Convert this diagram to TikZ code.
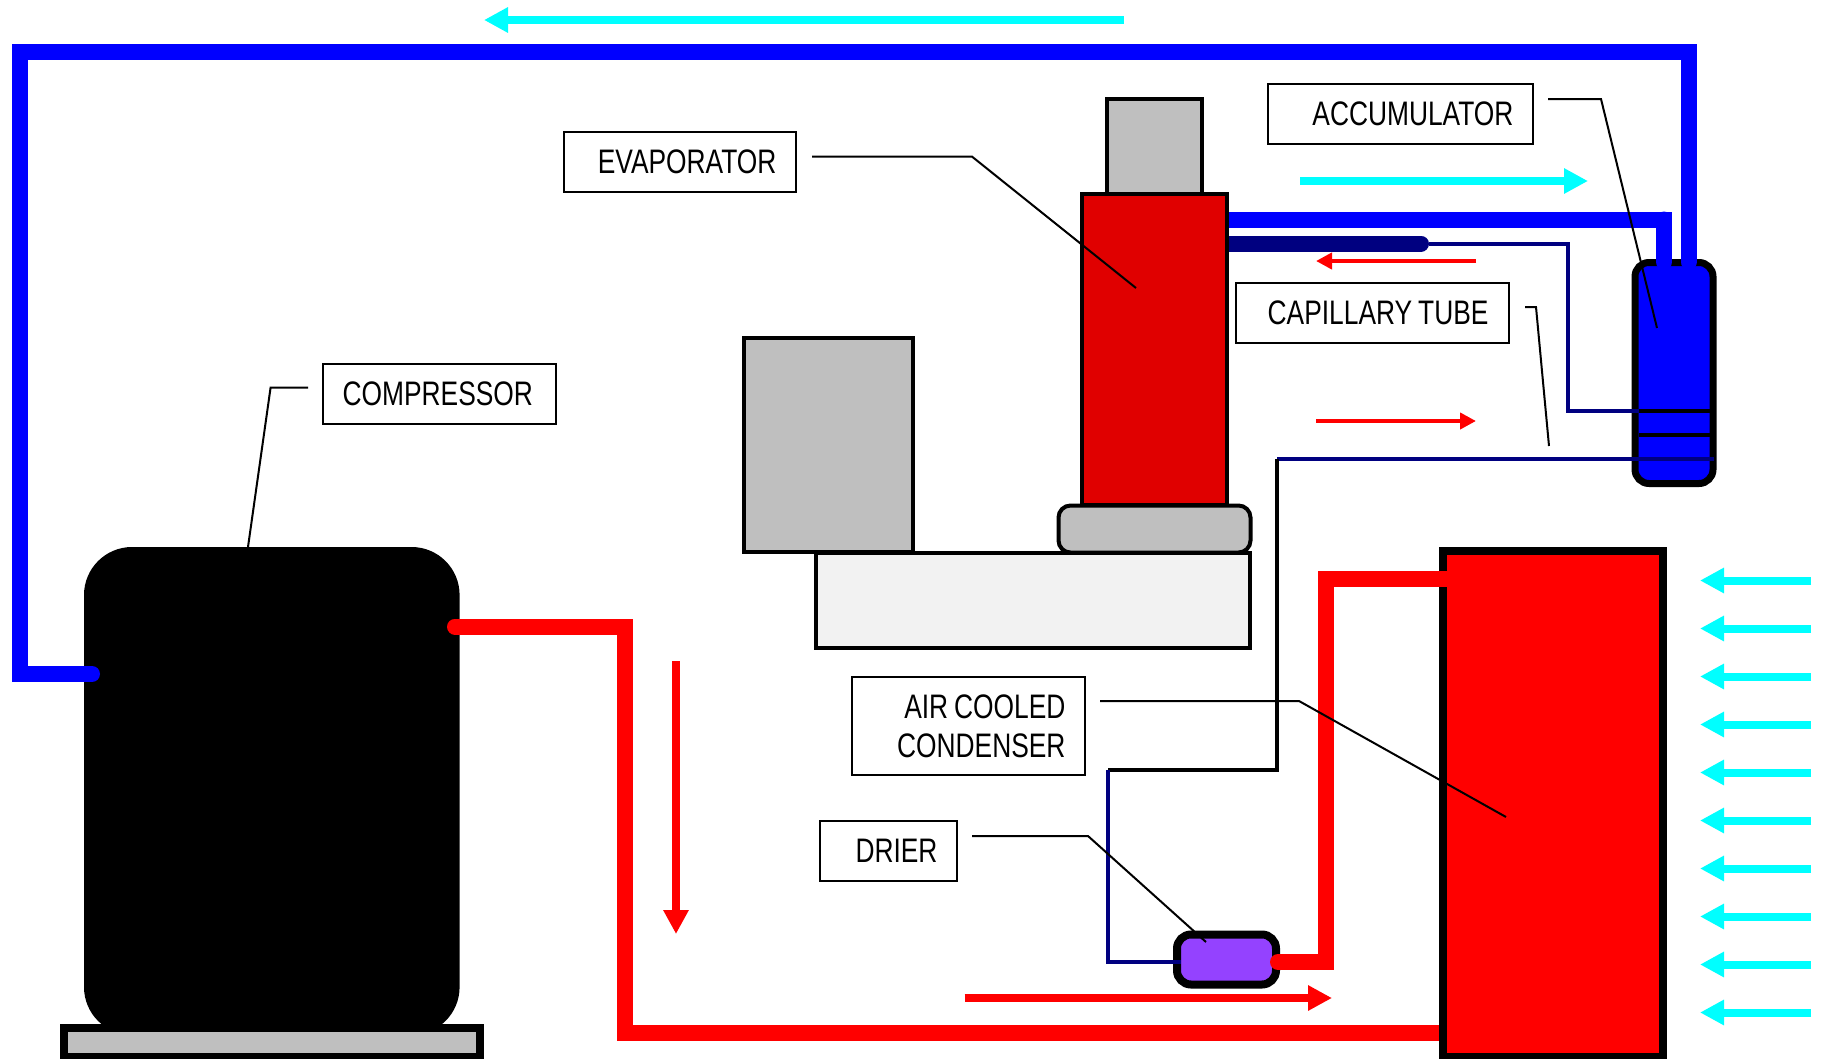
\documentclass[tikz,border=0pt]{standalone}
\usepackage{fontspec}
\setmainfont[FakeStretch=0.775]{Liberation Sans}
\usetikzlibrary{arrows.meta}
\definecolor{tubeblue}{HTML}{0000FF}
\definecolor{tubered}{HTML}{FF0000}
\definecolor{evapred}{HTML}{E00000}
\definecolor{capnavy}{HTML}{000080}
\definecolor{flowcyan}{HTML}{00FFFF}
\definecolor{partgray}{HTML}{BFBFBF}
\definecolor{basegray}{HTML}{F2F2F2}
\definecolor{drierviolet}{HTML}{9442FF}
\tikzset{
  x=1pt,y=-1pt,
  labelbox/.style={draw=black,line width=2pt,fill=white,inner xsep=19.5pt,inner ysep=0pt,
    text width=#1pt-39pt,minimum width=#1pt,align=right,font=\fontsize{34}{39}\selectfont,text=black,
    execute at begin node={\spaceskip=6pt\relax}},
  leader/.style={draw=black,line width=2pt,line join=miter},
  part/.style={draw=black,line width=4pt,inner sep=0pt},
  tube/.style={line width=16pt,line cap=round,line join=miter},
  bluetube/.style={tube,draw=tubeblue},
  redtube/.style={tube,draw=tubered},
  navytube/.style={tube,draw=capnavy},
  capnavyline/.style={draw=capnavy,line width=4pt,line join=miter},
  capblackline/.style={draw=black,line width=4pt,line join=miter},
  bigflow/.style={line width=8pt,-{Triangle[length=24pt,width=24pt]}},
  smallflow/.style={line width=4pt,draw=tubered,-{Triangle[length=16pt,width=16pt]}},
  cyanflow/.style={bigflow,draw=flowcyan},
  redflow/.style={bigflow,draw=tubered},
}
\begin{document}
\begin{tikzpicture}
\useasboundingbox (0,0) rectangle (1824,1058);
% anchor coordinates
\coordinate (bl1) at (1200,219.5);
\coordinate (bl2) at (1664,219.5);
\coordinate (bl3) at (1664,262);
\coordinate (bt1) at (92,674);
\coordinate (bt2) at (20,674);
\coordinate (bt3) at (20,52);
\coordinate (bt4) at (1688.5,52);
\coordinate (bt5) at (1688.5,262);
\coordinate (nv1) at (1200,243.5);
\coordinate (nv2) at (1421,243.5);
\coordinate (nv2b) at (1429,243.5);
\coordinate (nv3) at (1567.5,243.5);
\coordinate (nv4) at (1567.5,411);
\coordinate (nv5) at (1639,411);
\coordinate (nv6) at (1714,459);
\coordinate (nv7) at (1277,459);
\coordinate (nv8) at (1277,770);
\coordinate (nv9) at (1108,770);
\coordinate (nv10) at (1108,962);
\coordinate (nv11) at (1181,962);
\coordinate (rd1) at (455,626.5);
\coordinate (rd2) at (624.6,626.5);
\coordinate (rd3) at (624.6,1033);
\coordinate (rd4) at (1450,1033);
\coordinate (rt1) at (1450,579);
\coordinate (rt2) at (1326,579);
\coordinate (rt3) at (1326,962);
\coordinate (rt4) at (1278,962);
% parts
\node[part,fill=basegray,minimum width=434pt,minimum height=95pt] (base) at (1033,600.5) {};
\node[part,fill=partgray,minimum width=169pt,minimum height=214.5pt] (box) at (828.5,445) {};
\node[part,fill=partgray,minimum width=95pt,minimum height=96pt] (evaptop) at (1154,147) {};
\draw[bluetube] (bl1) -- (bl2) -- (bl3);
\draw[navytube] (nv1) -- (nv2);
\node[part,fill=evapred,minimum width=144.5pt,minimum height=311pt] (evap) at (1154.7,349.5) {};
\node[part,fill=partgray,rounded corners=12pt,minimum width=192pt,minimum height=47pt] (evapbase) at (1154.5,529) {};
\node[part,line width=7pt,fill=tubeblue,rounded corners=14pt,minimum width=78pt,minimum height=221pt] (acc) at (1674,373) {};
\node[fill=black,rounded corners=48pt,minimum width=375.6pt,minimum height=488pt,inner sep=0pt] (comp) at (271.8,791) {};
\node[part,line width=8pt,fill=partgray,minimum width=416pt,minimum height=28.5pt] (plate) at (272,1042.7) {};
\draw[bluetube] (bt1) -- (bt2) -- (bt3) -- (bt4) -- (bt5);
\draw[bluetube] (bl2) -- (bl3);
\draw[redtube] (rd1) -- (rd2) -- (rd3) -- (rd4);
\node[part,line width=8pt,fill=tubered,minimum width=220pt,minimum height=506pt] (cond) at (1552.5,804) {};
\node[part,line width=8pt,fill=drierviolet,rounded corners=14pt,minimum width=99pt,minimum height=50pt] (drier) at (1226.5,959.5) {};
\draw[redtube] (rt1) -- (rt2) -- (rt3) -- (rt4);
% capillary lines
\draw[capnavyline] (nv2b) -- (nv3) -- (nv4) -- (nv5);
\draw[capblackline] (nv5) -- (1710,411);
\draw[capblackline] (1639,435) -- (1710,435);
\draw[capnavyline] (nv6) -- (nv7);
\draw[capblackline] (nv7) -- (nv8) -- (nv9);
\draw[capnavyline] (nv9) -- (nv10) -- (nv11);
% labels
\node[labelbox=265,minimum height=60pt] (lacc) at (1400.5,114) {ACCUMULATOR};
\node[labelbox=273,minimum height=60pt] (lcap) at (1372.5,313) {CAPILLARY TUBE\hspace*{1pt}};
\node[labelbox=232,minimum height=60pt] (levap) at (680,162) {EVAPORATOR};
\node[labelbox=233,minimum height=60pt] (lcomp) at (439.5,393.5) {COMPRESSOR\hspace*{3.5pt}};
\node[labelbox=233,minimum height=98pt] (lair) at (968.5,726) {AIR COOLED\\CONDENSER};
\node[labelbox=137,minimum height=60pt] (ldrier) at (888.5,851) {DRIER};
% leaders
\coordinate (ea1) at (1548,99); \coordinate (ea2) at (1601,99); \coordinate (ea3) at (1657,328);
\draw[leader] (ea1) -- (ea2) -- (ea3);
\coordinate (ec1) at (1525,307); \coordinate (ec2) at (1536,307); \coordinate (ec3) at (1549,446);
\draw[leader] (ec1) -- (ec2) -- (ec3);
\coordinate (ee1) at (812,156.6); \coordinate (ee2) at (972,156.6); \coordinate (ee3) at (1136,288);
\draw[leader] (ee1) -- (ee2) -- (ee3);
\coordinate (eo1) at (308,387.5); \coordinate (eo2) at (270.6,387.5); \coordinate (eo3) at (248,547);
\draw[leader] (eo1) -- (eo2) -- (eo3);
\coordinate (ef1) at (1100,701); \coordinate (ef2) at (1299,701); \coordinate (ef3) at (1506,817);
\draw[leader] (ef1) -- (ef2) -- (ef3);
\coordinate (ed1) at (972,836); \coordinate (ed2) at (1088,836); \coordinate (ed3) at (1206,942);
\draw[leader] (ed1) -- (ed2) -- (ed3);
% flow arrows
\coordinate (ca1) at (1124,20); \coordinate (ca2) at (484,20);
\draw[cyanflow] (ca1) -- (ca2);
\coordinate (cb1) at (1300,181); \coordinate (cb2) at (1588,181);
\draw[cyanflow] (cb1) -- (cb2);
\coordinate (ra1) at (1476,261); \coordinate (ra2) at (1316,261);
\draw[smallflow] (ra1) -- (ra2);
\coordinate (rb1) at (1316,421); \coordinate (rb2) at (1476,421);
\draw[smallflow] (rb1) -- (rb2);
\coordinate (rc1) at (676,661); \coordinate (rc2) at (676,934);
\draw[redflow] (rc1) -- (rc2);
\coordinate (rd5) at (964.6,998); \coordinate (rd6) at (1332,998);
\draw[redflow] (rd5) -- (rd6);
\foreach \yy [count=\i] in {580.5,628.5,676.5,724.5,772.5,820.5,868.5,916.5,964.5,1012.5}{
  \coordinate (w\i a) at (1811,\yy); \coordinate (w\i b) at (1700,\yy);
  \draw[cyanflow] (w\i a) -- (w\i b);
}
\end{tikzpicture}
\end{document}
